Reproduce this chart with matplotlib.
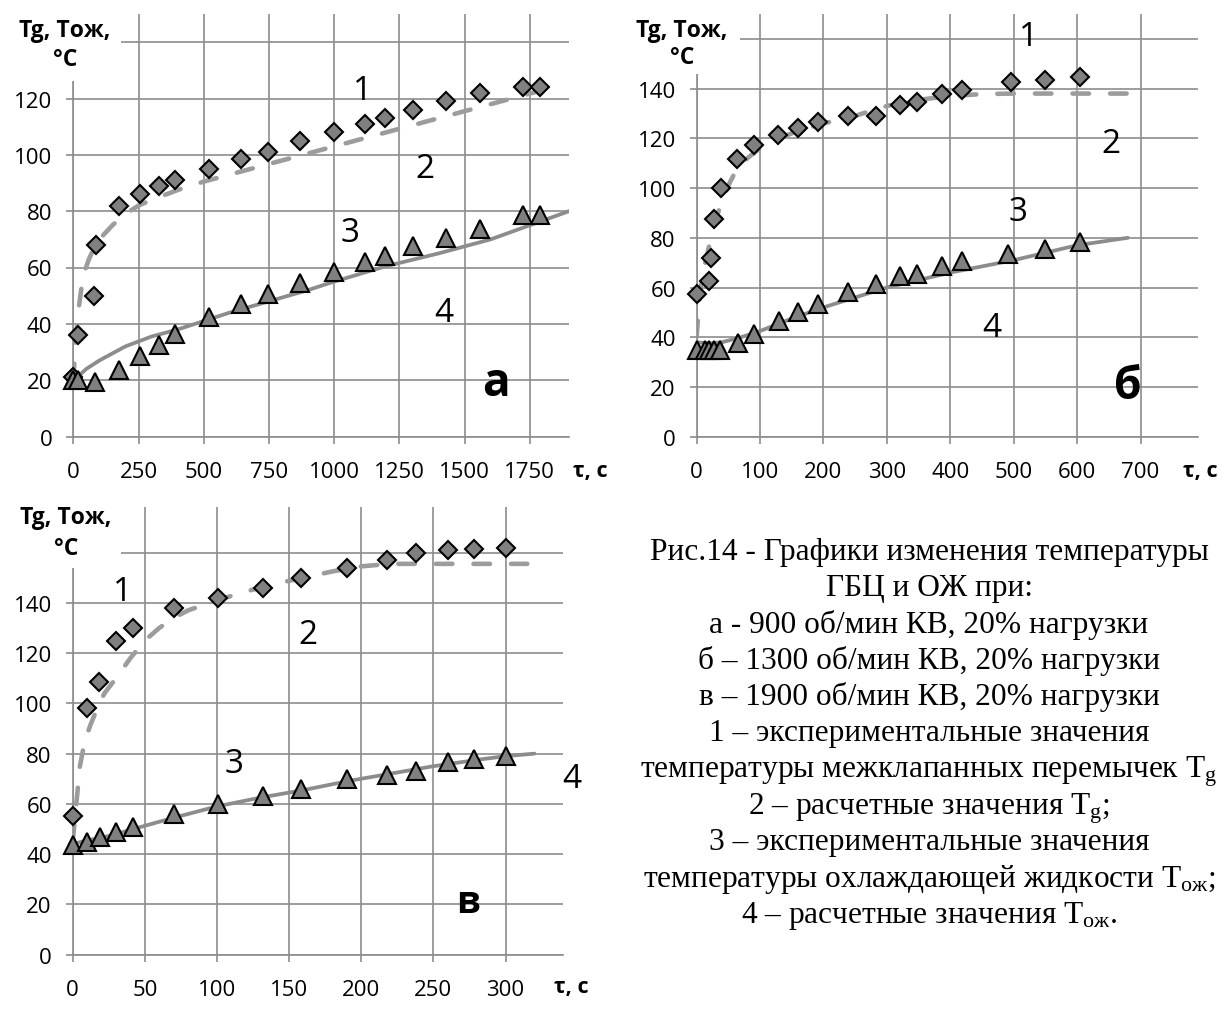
import matplotlib
matplotlib.use("Agg")
import matplotlib.pyplot as plt
from matplotlib.patches import Rectangle

plt.rcParams['mathtext.fontset'] = 'custom'
plt.rcParams['mathtext.rm'] = 'Liberation Serif'
plt.rcParams['mathtext.it'] = 'Liberation Serif:italic'

# ---------------- data ----------------
# panel a (900 rpm)
a_exp_g_x = [0, 19, 78, 88, 176, 257, 330, 389, 521, 641, 748, 870, 1000, 1118, 1195, 1301, 1430, 1559, 1724, 1790]
a_exp_g_y = [21, 36, 50, 68, 82, 86, 89, 91, 95, 98.5, 101, 105, 108, 111, 113, 116, 119, 122, 124, 124]
a_calc_g_x = [0, 10, 20, 30, 45, 60, 80, 100, 150, 200, 250, 300, 400, 500, 600, 700, 800, 900, 1000, 1100, 1200,
              1300, 1400, 1500, 1600, 1700, 1800, 1850]
a_calc_g_y = [20, 35, 45, 52, 59, 63, 67, 70, 75, 79, 82, 84, 87.5, 90.5, 93, 95.5, 98, 100.5, 103, 105.5, 108,
              110.5, 113, 115.5, 118, 120.5, 123, 124]
a_exp_oz_x = [0, 19, 85, 176, 257, 330, 389, 521, 641, 748, 870, 1000, 1118, 1195, 1301, 1430, 1559, 1724, 1790]
a_exp_oz_y = [20, 20, 19.5, 23.5, 28.5, 32.5, 36.5, 42.5, 47, 50.5, 54.5, 58.5, 62, 64, 67.5, 70.5, 73.5, 78.5, 78.5]
a_calc_oz_x = [0, 20, 50, 100, 200, 300, 400, 500, 600, 750, 900, 1000, 1200, 1400, 1600, 1750, 1900]
a_calc_oz_y = [20, 21.5, 24, 27, 32, 35.5, 38, 41, 44, 48, 52, 55, 60.5, 65, 70, 75, 80]

# panel b (1300 rpm)
b_exp_g_x = [0, 20, 22, 28, 39, 63, 90, 129, 160, 192, 238, 283, 321, 347, 387, 419, 495, 550, 605]
b_exp_g_y = [57.5, 62.5, 72, 87.5, 100, 111.5, 117.5, 121.5, 124, 126.5, 129, 129, 133.5, 134.5, 138, 139.5,
             142.5, 143.5, 144.5]
b_calc_g_x = [0, 5, 10, 20, 30, 40, 50, 60, 80, 100, 130, 160, 200, 250, 280, 300, 350, 400, 450, 500, 550, 600, 680]
b_calc_g_y = [40, 57, 66, 77, 87, 95, 101, 106, 112, 116, 120, 123, 126, 129, 131.5, 133, 135.5, 137, 137.8,
              138, 138, 138, 138]
b_exp_oz_x = [0, 14, 20, 27, 37, 65, 91, 130, 160, 192, 238, 283, 321, 347, 387, 419, 491, 550, 605]
b_exp_oz_y = [35, 35, 35, 35, 35, 37.5, 41.5, 46.5, 50, 53.5, 58, 61.5, 64.5, 65.5, 68.5, 70.5, 73.5, 75.5, 78.5]
b_calc_oz_x = [0, 20, 40, 70, 100, 150, 200, 250, 300, 350, 400, 450, 500, 550, 600, 680]
b_calc_oz_y = [38, 37.5, 38, 40, 42.5, 47.5, 52, 56, 60, 63, 66, 68.5, 71, 74, 77, 80]

# panel c (1900 rpm)
c_exp_g_x = [0, 10, 18, 30, 42, 70, 101, 132, 158, 190, 218, 238, 260, 278, 300]
c_exp_g_y = [55, 98, 108.5, 125, 130, 138, 142, 146, 150, 154, 157, 160, 161, 161.5, 162]
c_calc_g_x = [0, 2, 5, 8, 12, 17, 22, 30, 40, 50, 60, 70, 80, 100, 120, 140, 160, 180, 200, 220, 240, 260,
              280, 300, 315]
c_calc_g_y = [45, 57, 75, 84, 91, 98, 104, 110, 118, 125, 130, 134, 137, 141, 144.5, 147.5, 150, 152.5, 154.5,
              155.5, 155.5, 155.5, 155.5, 155.5, 155.5]
c_exp_oz_x = [0, 10, 19, 30, 42, 70, 101, 132, 158, 190, 218, 238, 260, 278, 300]
c_exp_oz_y = [43.5, 45, 47, 49, 51, 56, 60, 63, 66, 70, 71.5, 73, 76.5, 78, 79]
c_calc_oz_x = [0, 10, 20, 30, 42, 70, 100, 130, 160, 190, 220, 250, 280, 300, 320]
c_calc_oz_y = [44, 45.5, 46.5, 48, 50, 54.5, 59, 62.5, 65.5, 69, 72, 75, 77.5, 79, 80]

a_xticks = [0, 250, 500, 750, 1000, 1250, 1500, 1750]
b_xticks = [0, 100, 200, 300, 400, 500, 600, 700]
c_xticks = [0, 50, 100, 150, 200, 250, 300]
a_yticks = [0, 20, 40, 60, 80, 100, 120, 140]
b_yticks = [0, 20, 40, 60, 80, 100, 120, 140, 160]
c_yticks = [0, 20, 40, 60, 80, 100, 120, 140, 160]

y_title = "Tg, Тож,"
y_unit = "°C"
x_title = "τ, с"

caption_lines = [
    "Рис.14 - Графики изменения температуры",
    "ГБЦ и ОЖ при:",
    "а - 900 об/мин КВ, 20% нагрузки",
    "б – 1300 об/мин КВ, 20% нагрузки",
    "в – 1900 об/мин КВ, 20% нагрузки",
    "1 – экспериментальные значения",
    "температуры межклапанных перемычек T$_\\mathrm{g}$",
    "2 – расчетные значения T$_\\mathrm{g}$;",
    "3 – экспериментальные значения",
    "температуры охлаждающей жидкости T$_\\mathrm{ож}$;",
    "4 – расчетные значения T$_\\mathrm{ож}$.",
]

# ---------------- style ----------------
W, H = 1221, 1012
GRID = '#8c8c8c'
DASH_C = '#9c9c9c'
SOLID_C = '#8c8c8c'
FACE = '#808080'
SANS = ['Open Sans', 'DejaVu Sans']
SERIF = ['Liberation Serif', 'DejaVu Serif']

fig = plt.figure(figsize=(W / 100, H / 100), dpi=100)


def px_rect(l, r, t, b):
    return [l / W, 1 - b / H, (r - l) / W, (b - t) / H]


def make_panel(rect, xlim, ylim, xticks, yticks, eg, cg, eo, co, labels, letter, letter_size):
    ax = fig.add_axes(rect)
    ax.set_xlim(*xlim)
    ax.set_ylim(*ylim)
    ax.set_xticks(xticks)
    # top gridline label is hidden behind the axis-title box in the original
    ax.set_yticks(yticks, [str(v) for v in yticks[:-1]] + [''])
    ax.set_axisbelow(True)
    ax.grid(True, color=GRID, lw=1.2)
    for s in ['top', 'right']:
        ax.spines[s].set_visible(False)
    for s in ['left', 'bottom']:
        ax.spines[s].set_color(GRID)
        ax.spines[s].set_linewidth(1.2)
    ax.tick_params(axis='both', length=5, width=1.2, color=GRID, labelsize=16)
    ax.tick_params(axis='x', pad=12.5)
    ax.tick_params(axis='y', pad=10)
    for lab in ax.get_xticklabels() + ax.get_yticklabels():
        lab.set_fontfamily(SANS)
    ax.plot(cg[0], cg[1], color=DASH_C, lw=3.3, linestyle=(0, (3.6, 4.6)),
            dash_capstyle='round', solid_joinstyle='round', zorder=2)
    ax.plot(co[0], co[1], color=SOLID_C, lw=2.7, solid_capstyle='round',
            solid_joinstyle='round', zorder=2)
    ax.plot(eg[0], eg[1], linestyle='none', marker='D', ms=9.2, mfc=FACE, mec='black',
            mew=1.5, zorder=3, clip_on=False)
    ax.plot(eo[0], eo[1], linestyle='none', marker='^', ms=13, mfc=FACE, mec='black',
            mew=1.5, zorder=4, clip_on=False)
    for txt, (x, y) in labels.items():
        ax.text(x, y, txt, fontsize=24, family=SANS, ha='center', va='center', clip_on=False)
    ax.text(letter[1][0], letter[1][1], letter[0], fontsize=letter_size, family=SANS,
            fontweight='bold', ha='center', va='center')
    return ax


make_panel(px_rect(73.3, 569, 15, 437.5), (0, 1900), (0, 150), a_xticks, a_yticks,
           (a_exp_g_x, a_exp_g_y), (a_calc_g_x, a_calc_g_y), (a_exp_oz_x, a_exp_oz_y),
           (a_calc_oz_x, a_calc_oz_y),
           {'1': (1110, 123), '2': (1346, 95), '3': (1062, 72.5), '4': (1421, 44)},
           ('а', (1622, 19)), 33)

make_panel(px_rect(696.6, 1197.7, 15, 437.7), (0, 790), (0, 170), b_xticks, b_yticks,
           (b_exp_g_x, b_exp_g_y), (b_calc_g_x, b_calc_g_y), (b_exp_oz_x, b_exp_oz_y),
           (b_calc_oz_x, b_calc_oz_y),
           {'1': (524, 161), '2': (653, 118), '3': (507, 90.5), '4': (465, 44)},
           ('б', (680, 20)), 32)

make_panel(px_rect(72.7, 563.3, 508.3, 955.7), (0, 340), (0, 178), c_xticks, c_yticks,
           (c_exp_g_x, c_exp_g_y), (c_calc_g_x, c_calc_g_y), (c_exp_oz_x, c_exp_oz_y),
           (c_calc_oz_x, c_calc_oz_y),
           {'1': (34.5, 144.5), '2': (163, 127.5), '3': (112, 76), '4': (346, 70)},
           ('в', (274, 21)), 27)

# white boxes behind the axis titles
for (l, t, r, b) in [(0, 0, 121, 82), (612, 0, 740, 75), (0, 488, 121, 569)]:
    fig.patches.append(Rectangle((l / W, 1 - b / H), (r - l) / W, (b - t) / H,
                                 transform=fig.transFigure, facecolor='white',
                                 edgecolor='none', zorder=5))

# axis titles
for (x, y1, y2) in [(65, 31, 60), (682, 31, 58), (66, 518, 549)]:
    fig.text(x / W, 1 - y1 / H, y_title, fontsize=16.5, family=SANS, fontweight='bold',
             ha='center', va='center', zorder=6)
    fig.text(x / W, 1 - y2 / H, y_unit, fontsize=16.5, family=SANS, fontweight='bold',
             ha='center', va='center', zorder=6)
for (x, y) in [(590, 472), (1200, 472), (571, 988)]:
    fig.text(x / W, 1 - y / H, x_title, fontsize=15.5, family=SANS, fontweight='bold',
             ha='center', va='center', zorder=6)

# caption
base0 = 560
step = 36.3
for i, line in enumerate(caption_lines):
    fig.text(929 / W, 1 - (base0 + i * step) / H, line, fontsize=22.6, family=SERIF,
             ha='center', va='baseline', zorder=6)

fig.savefig('out.png', dpi=100)
